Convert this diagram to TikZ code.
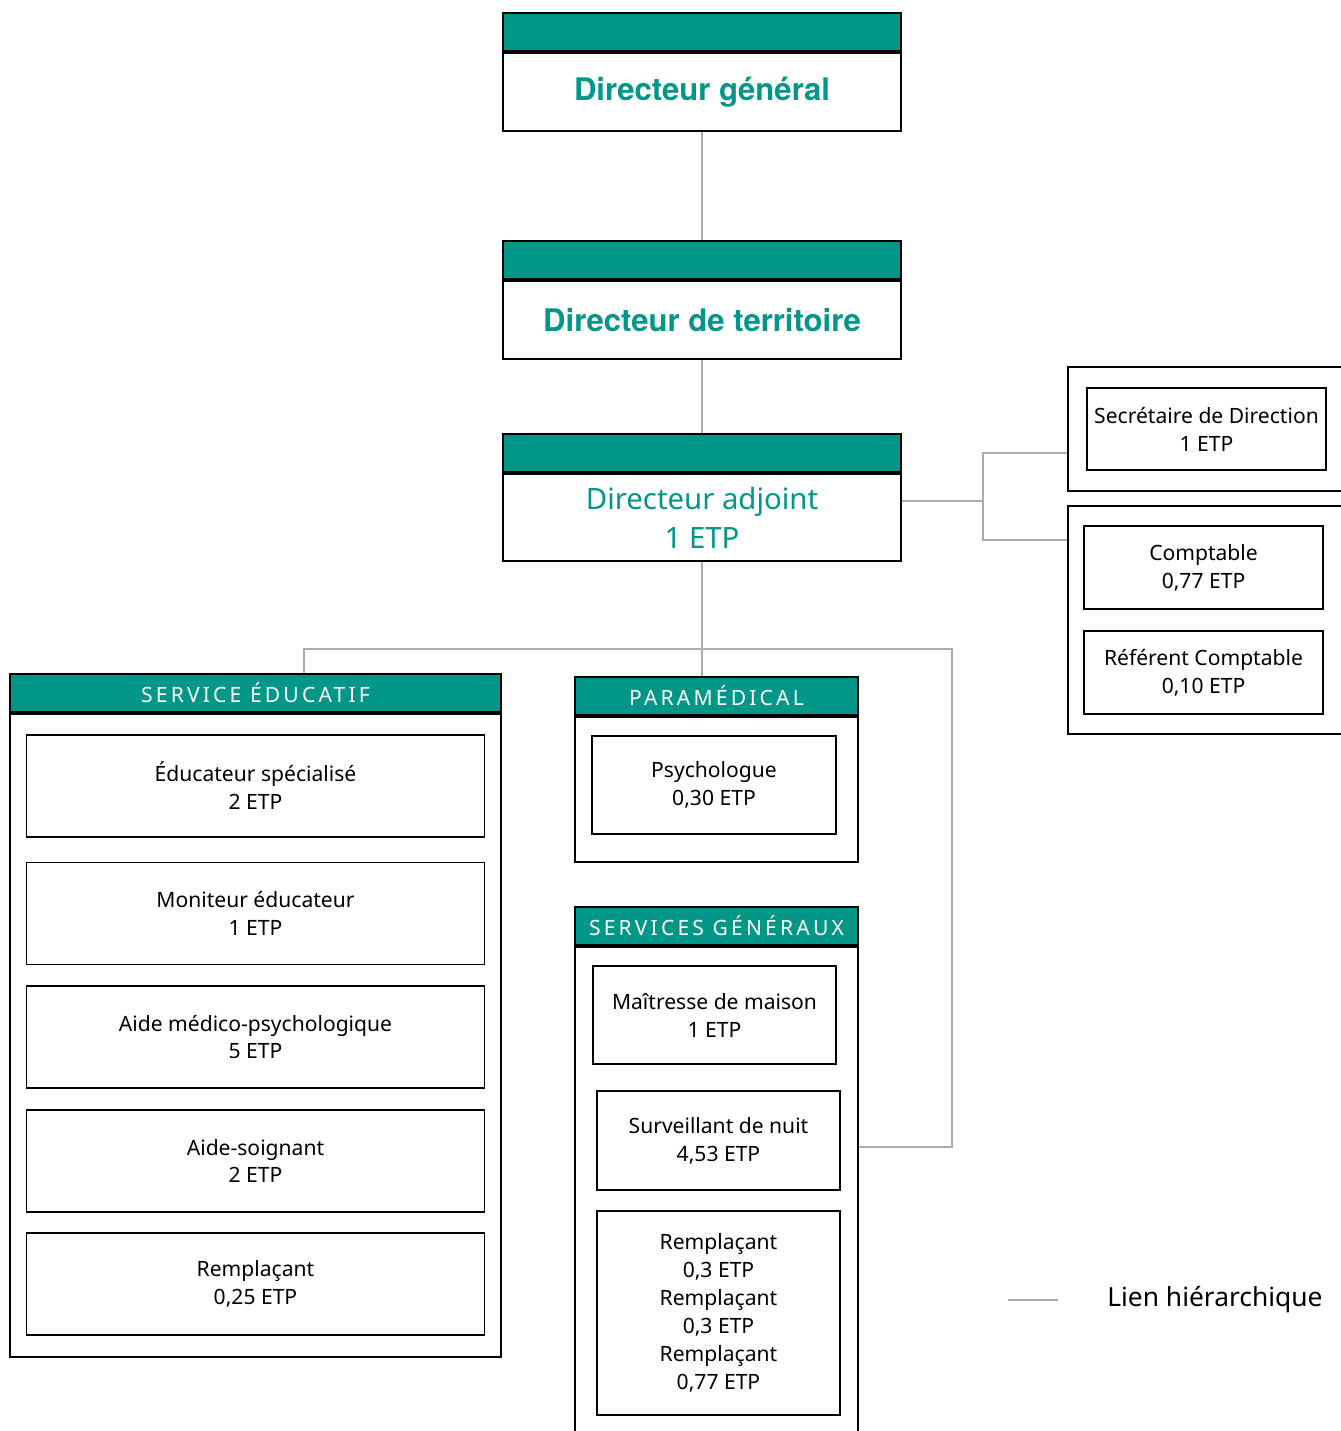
\documentclass[tikz,border=0pt]{standalone}
\usepackage{fontspec}
\setmainfont{Noto Sans}
\newfontfamily\spacedfont[LetterSpace=15]{Noto Sans}
\newfontfamily\titlefont{TeX Gyre Heros}
\usetikzlibrary{positioning}
\definecolor{orgteal}{RGB}{0,150,136}
\definecolor{linkgray}{RGB}{172,172,172}
\newdimen\pxu \pxu=0.02cm

\tikzset{
  headbar/.style={draw, line width=1.2pt, fill=orgteal, text=white, minimum height=38\pxu, inner sep=0pt, font=\spacedfont\fontsize{12}{14}\selectfont},
  topbody/.style={draw, line width=1.2pt, minimum width=398\pxu, inner sep=0pt, align=center, text=orgteal},
  groupbody/.style={draw, line width=1.1pt, inner sep=0pt},
  postbox/.style={draw, line width=1.1pt, inner sep=0pt, align=center, font=\fontsize{12}{15.9}\selectfont},
  link/.style={draw=linkgray, line width=1.1pt},
}

\begin{document}
\begin{tikzpicture}[x=0.02cm, y=-0.02cm]
  \useasboundingbox (0,0) rectangle (1341,1431);
  % direction
  \node[headbar, minimum width=398\pxu] (dg-h) at (702,32) {};
  \node[topbody, minimum height=78\pxu, below=0pt of dg-h, font=\titlefont\bfseries\fontsize{17.7}{22}\selectfont] (dg) {Directeur général};
  \node[headbar, minimum width=398\pxu] (dt-h) at (702,260) {};
  \node[topbody, minimum height=78\pxu, below=0pt of dt-h, font=\titlefont\bfseries\fontsize{17.7}{22}\selectfont] (dt) {Directeur de territoire};
  \node[headbar, minimum width=398\pxu] (da-h) at (702,453) {};
  \node[topbody, minimum height=87\pxu, below=0pt of da-h, font=\fontsize{16.7}{22.2}\selectfont] (da) {Directeur adjoint\\1 ETP};

  % secretariat and accounting
  \node[groupbody, minimum width=277\pxu, minimum height=124\pxu] (g1) at (1206.5,429) {};
  \node[postbox, minimum width=239\pxu, minimum height=82\pxu] (sec) at (1206.5,429) {Secrétaire de Direction\\1 ETP};
  \node[groupbody, minimum width=277\pxu, minimum height=228\pxu] (g2) at (1206.5,620) {};
  \node[postbox, minimum width=239\pxu, minimum height=83\pxu] (cpt) at (1203.5,567.5) {Comptable\\0,77 ETP};
  \node[postbox, minimum width=239\pxu, minimum height=83\pxu] (refcpt) at (1203.5,672.5) {Référent Comptable\\0,10 ETP};

  % service educatif
  \node[headbar, minimum width=491\pxu] (edu-h) at (255.5,693) {SERVICE ÉDUCATIF};
  \node[groupbody, minimum width=491\pxu, minimum height=643\pxu, below=0pt of edu-h] (edu) {};
  \foreach \nm/\y/\job/\etp in {edu1/786/Éducateur spécialisé/2, edu2/913.5/Moniteur éducateur/1,
      edu3/1037/Aide médico-psychologique/5, edu4/1161/Aide-soignant/2, edu5/1284/Remplaçant/{0,25}}
    \node[postbox, minimum width=458\pxu, minimum height=102\pxu] (\nm) at (255.5,\y) {\job\\\etp~ETP};

  % paramedical
  \node[headbar, minimum width=283\pxu] (para-h) at (716.5,696) {PARAMÉDICAL};
  \node[groupbody, minimum width=283\pxu, minimum height=145\pxu, below=0pt of para-h] (para) {};
  \node[postbox, minimum width=244\pxu, minimum height=98\pxu] (psy) at (714,785) {Psychologue\\0,30 ETP};

  % services generaux
  \node[headbar, minimum width=283\pxu] (sg-h) at (716.5,926) {SERVICES GÉNÉRAUX};
  \node[groupbody, minimum width=283\pxu, minimum height=490\pxu, below=0pt of sg-h] (sg) {};
  \node[postbox, minimum width=243\pxu, minimum height=98\pxu] (mm) at (714.5,1015) {Maîtresse de maison\\1 ETP};
  \node[postbox, minimum width=243\pxu, minimum height=99\pxu] (surv) at (718.5,1140.5) {Surveillant de nuit\\4,53 ETP};
  \node[postbox, minimum width=243\pxu, minimum height=204\pxu] (rempl) at (718.5,1313) {Remplaçant\\0,3 ETP\\Remplaçant\\0,3 ETP\\Remplaçant\\0,77 ETP};

  % liens
  \draw[link] (dg) -- (dt-h);
  \draw[link] (dt) -- (da-h);
  \draw[link] ([yshift=17\pxu]da.east) -- ++(81\pxu,0) coordinate (fork);
  \draw[link] ([yshift=-24\pxu]g1.west) -| (fork) |- ([yshift=80\pxu]g2.west);
  \coordinate (bus) at (702,649);
  \coordinate (busr) at (952,649);
  \draw[link] (da.south) -- (bus) -- (bus |- para-h.north);
  \draw[link] ([xshift=48.5\pxu]edu-h.north) |- (bus) -- (busr) |- ([yshift=-6.5\pxu]surv.east -| sg.east);

  % legende
  \coordinate (key-a) at (1008,1300);
  \draw[link] (key-a) -- ++(50,0);
  \node[anchor=west, inner sep=0pt, font=\fontsize{15}{18}\selectfont] (key) at (1107,1300) {Lien hiérarchique};
\end{tikzpicture}
\end{document}
